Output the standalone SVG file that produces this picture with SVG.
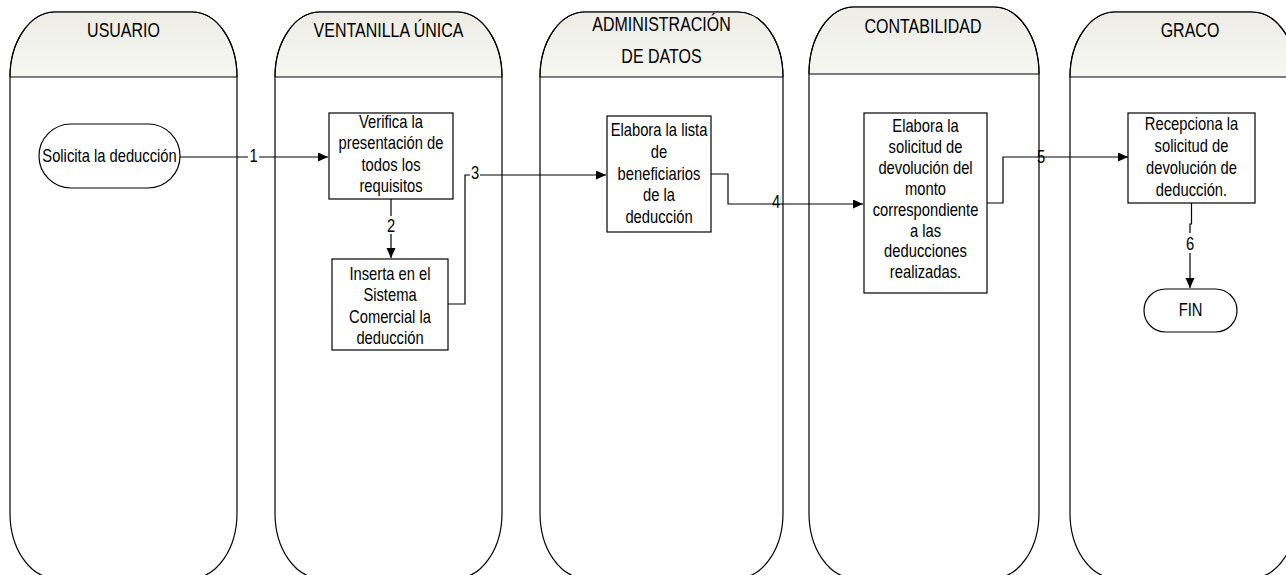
<svg xmlns="http://www.w3.org/2000/svg" width="1286" height="575" viewBox="0 0 1286 575">
<defs>
<linearGradient id="hg" x1="0" y1="0" x2="0" y2="1">
<stop offset="0" stop-color="#ededE6"/>
<stop offset="1" stop-color="#f7f7f2"/>
</linearGradient>
<marker id="arr" markerUnits="userSpaceOnUse" markerWidth="11" markerHeight="10" refX="10" refY="4.5" orient="auto">
<path d="M0,0 L10,4.5 L0,9 Z" fill="#000"/>
</marker>
<style>
.lane{fill:#fff;stroke:#000;stroke-width:1.2}
.hdr{fill:url(#hg);stroke:none}
.div{stroke:#000;stroke-width:1.2}
.box{fill:#fff;stroke:#000;stroke-width:1.2}
.t{font-family:'Liberation Sans',Arial,sans-serif;font-size:18px;fill:#000;text-anchor:middle}
.h{font-family:'Liberation Sans',Arial,sans-serif;font-size:19.5px;fill:#000;text-anchor:middle}
.c{fill:none;stroke:#000;stroke-width:1.2}
.lb{font-family:'Liberation Sans',Arial,sans-serif;font-size:18px;fill:#000;text-anchor:middle}
.bg{fill:#fff}
</style>
</defs>
<rect width="1286" height="575" fill="#fff"/>

<g id="lane-usuario">
<path class="lane" d="M10,77 A45,65 0 0 1 55,12 H192 A45,65 0 0 1 237,77 V513 A45,65 0 0 1 192,578 H55 A45,65 0 0 1 10,513 Z"/>
<path class="hdr" d="M10.6,77 A45,65 0 0 1 55,12.6 H192 A45,65 0 0 1 236.4,77 Z"/>
<path class="lane" style="fill:none" d="M10,77 A45,65 0 0 1 55,12 H192 A45,65 0 0 1 237,77"/>
<line class="div" x1="10" y1="77" x2="237" y2="77"/>
<g transform="translate(123.5,0) scale(0.82,1)"><text class="h" x="0" y="37">USUARIO</text></g>
</g>

<g id="lane-ventanilla">
<path class="lane" d="M275,77 A45,65 0 0 1 320,12 H457 A45,65 0 0 1 502,77 V513 A45,65 0 0 1 457,578 H320 A45,65 0 0 1 275,513 Z"/>
<path class="hdr" d="M275.6,77 A45,65 0 0 1 320,12.6 H457 A45,65 0 0 1 501.4,77 Z"/>
<path class="lane" style="fill:none" d="M275,77 A45,65 0 0 1 320,12 H457 A45,65 0 0 1 502,77"/>
<line class="div" x1="275" y1="77" x2="502" y2="77"/>
<g transform="translate(388.5,0) scale(0.82,1)"><text class="h" x="0" y="37">VENTANILLA ÚNICA</text></g>
</g>

<g id="lane-administracion">
<path class="lane" d="M540,77 A45,65 0 0 1 585,12 H738 A45,65 0 0 1 783,77 V513 A45,65 0 0 1 738,578 H585 A45,65 0 0 1 540,513 Z"/>
<path class="hdr" d="M540.6,77 A45,65 0 0 1 585,12.6 H738 A45,65 0 0 1 782.4,77 Z"/>
<path class="lane" style="fill:none" d="M540,77 A45,65 0 0 1 585,12 H738 A45,65 0 0 1 783,77"/>
<line class="div" x1="540" y1="77" x2="783" y2="77"/>
<g transform="translate(661.5,0) scale(0.82,1)">
<text class="h" x="0" y="31">ADMINISTRACIÓN</text>
<text class="h" x="0" y="63">DE DATOS</text>
</g>
</g>

<g id="lane-contabilidad">
<path class="lane" d="M809,74 A45,67 0 0 1 854,7 H994 A45,67 0 0 1 1039,74 V513 A45,65 0 0 1 994,578 H854 A45,65 0 0 1 809,513 Z"/>
<path class="hdr" d="M809.6,74 A45,67 0 0 1 854,7.6 H994 A45,67 0 0 1 1038.4,74 Z"/>
<path class="lane" style="fill:none" d="M809,74 A45,67 0 0 1 854,7 H994 A45,67 0 0 1 1039,74"/>
<line class="div" x1="809" y1="74" x2="1039" y2="74"/>
<g transform="translate(923,0) scale(0.82,1)"><text class="h" x="0" y="33">CONTABILIDAD</text></g>
</g>

<g id="lane-graco">
<path class="lane" d="M1070,77 A45,65 0 0 1 1115,12 H1252 A45,65 0 0 1 1297,77 V513 A45,65 0 0 1 1252,578 H1115 A45,65 0 0 1 1070,513 Z"/>
<path class="hdr" d="M1070.6,77 A45,65 0 0 1 1115,12.6 H1252 A45,65 0 0 1 1296.4,77 Z"/>
<path class="lane" style="fill:none" d="M1070,77 A45,65 0 0 1 1115,12 H1252 A45,65 0 0 1 1297,77"/>
<line class="div" x1="1070" y1="77" x2="1297" y2="77"/>
<g transform="translate(1190,0) scale(0.82,1)"><text class="h" x="0" y="37">GRACO</text></g>
</g>

<g id="connectors">
<path class="c" d="M180,157 H328" marker-end="url(#arr)"/>
<path class="c" d="M391,199 V258" marker-end="url(#arr)"/>
<path class="c" d="M448,304 H465 V175 H606" marker-end="url(#arr)"/>
<path class="c" d="M711,174 H728 V204 H863" marker-end="url(#arr)"/>
<path class="c" d="M987,203 H1003 V157 H1128" marker-end="url(#arr)"/>
<path class="c" d="M1191.5,203 V224 H1190 V288" marker-end="url(#arr)"/>
<rect class="bg" x="248" y="148" width="11" height="17"/>
<rect class="bg" x="386" y="216" width="10" height="18"/>
<rect class="bg" x="470" y="164" width="10" height="17"/>
<rect class="bg" x="1185" y="233" width="10" height="20"/>
<g transform="translate(253.5,0) scale(0.82,1)"><text class="lb" x="0" y="162">1</text></g>
<g transform="translate(391,0) scale(0.82,1)"><text class="lb" x="0" y="232">2</text></g>
<g transform="translate(475,0) scale(0.82,1)"><text class="lb" x="0" y="179">3</text></g>
<g transform="translate(776,0) scale(0.82,1)"><text class="lb" x="0" y="208">4</text></g>
<g transform="translate(1041,0) scale(0.82,1)"><text class="lb" x="0" y="163">5</text></g>
<g transform="translate(1190,0) scale(0.82,1)"><text class="lb" x="0" y="250">6</text></g>
</g>

<g id="n-solicita">
<rect class="box" x="39" y="124" width="141" height="64" rx="32" ry="32"/>
<g transform="translate(109.5,0) scale(0.82,1)"><text class="t" x="0" y="162">Solicita la deducción</text></g>
</g>

<g id="n-verifica">
<rect class="box" x="329" y="113" width="124" height="86"/>
<g transform="translate(391,0) scale(0.82,1)">
<text class="t" x="0" y="128">Verifica la</text>
<text class="t" x="0" y="149.5">presentación de</text>
<text class="t" x="0" y="171">todos los</text>
<text class="t" x="0" y="192.5">requisitos</text>
</g>
</g>

<g id="n-inserta">
<rect class="box" x="332" y="259" width="116" height="91"/>
<g transform="translate(390,0) scale(0.82,1)">
<text class="t" x="0" y="280">Inserta en el</text>
<text class="t" x="0" y="301.5">Sistema</text>
<text class="t" x="0" y="323">Comercial la</text>
<text class="t" x="0" y="344.5">deducción</text>
</g>
</g>

<g id="n-elabora-lista">
<rect class="box" x="607" y="116" width="104" height="116"/>
<g transform="translate(659,0) scale(0.82,1)">
<text class="t" x="0" y="136">Elabora la lista</text>
<text class="t" x="0" y="158">de</text>
<text class="t" x="0" y="180">beneficiarios</text>
<text class="t" x="0" y="201.5">de la</text>
<text class="t" x="0" y="223">deducción</text>
</g>
</g>

<g id="n-elabora-solicitud">
<rect class="box" x="864" y="113" width="123" height="180"/>
<g transform="translate(925.5,0) scale(0.82,1)">
<text class="t" x="0" y="132">Elabora la</text>
<text class="t" x="0" y="153">solicitud de</text>
<text class="t" x="0" y="174">devolución del</text>
<text class="t" x="0" y="195">monto</text>
<text class="t" x="0" y="216">correspondiente</text>
<text class="t" x="0" y="237">a las</text>
<text class="t" x="0" y="257">deducciones</text>
<text class="t" x="0" y="278">realizadas.</text>
</g>
</g>

<g id="n-recepciona">
<rect class="box" x="1128" y="113" width="127" height="90"/>
<g transform="translate(1191.5,0) scale(0.82,1)">
<text class="t" x="0" y="130">Recepciona la</text>
<text class="t" x="0" y="152">solicitud de</text>
<text class="t" x="0" y="174">devolución de</text>
<text class="t" x="0" y="196">deducción.</text>
</g>
</g>

<g id="n-fin">
<rect class="box" x="1144" y="289" width="93" height="43" rx="21.5" ry="21.5"/>
<g transform="translate(1190.5,0) scale(0.82,1)"><text class="t" x="0" y="316">FIN</text></g>
</g>
</svg>
